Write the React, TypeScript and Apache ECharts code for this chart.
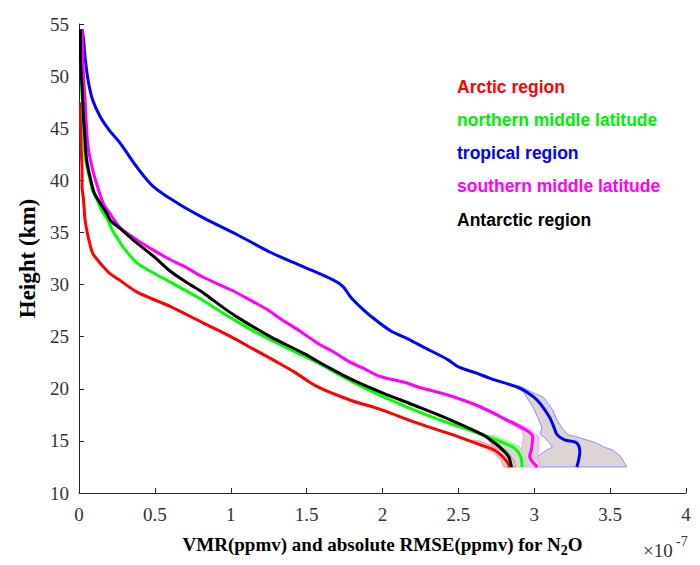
import React, { useEffect, useRef } from "react";
import * as echarts from "echarts";

// Height (km), VMR (x1e-7 ppmv)
const arctic: [number, number][] = [
  [47.5, 0.01], [43.0, 0.015], [41.0, 0.02], [39.4, 0.02], [38.1, 0.03], [36.2, 0.04], [34.6, 0.06],
  [33.0, 0.09], [32.4, 0.12], [31.7, 0.16], [31.1, 0.2], [30.5, 0.26], [29.3, 0.38], [27.9, 0.6],
  [26.3, 0.82], [25.0, 1.0], [23.8, 1.15], [22.6, 1.3], [21.6, 1.42], [20.2, 1.57], [18.9, 1.79],
  [18.0, 1.99], [16.8, 2.21], [15.7, 2.44], [14.6, 2.65], [14.1, 2.74], [13.2, 2.81], [12.5, 2.84],
];
const northernMid: [number, number][] = [
  [52.0, 0.0], [51.9, 0.01], [48.4, 0.02], [44.8, 0.03], [42.3, 0.04], [41.5, 0.05], [40.2, 0.07],
  [39.0, 0.09], [38.1, 0.12], [37.1, 0.15], [36.2, 0.19], [35.2, 0.22], [34.3, 0.26], [33.6, 0.29],
  [32.1, 0.38], [31.2, 0.48], [30.4, 0.58], [28.8, 0.78], [26.9, 0.99], [25.3, 1.18], [23.7, 1.4],
  [22.3, 1.6], [21.0, 1.76], [19.6, 1.95], [18.2, 2.17], [16.9, 2.4], [15.8, 2.62], [14.8, 2.8],
  [14.3, 2.87], [13.5, 2.91], [12.5, 2.92],
];
const tropical: [number, number][] = [
  [54.5, 0.02], [53.5, 0.03], [51.8, 0.04], [49.6, 0.06], [47.7, 0.09], [46.1, 0.14], [44.8, 0.2],
  [43.6, 0.27], [41.3, 0.38], [39.4, 0.49], [37.8, 0.65], [36.4, 0.82], [34.8, 1.04], [33.1, 1.26],
  [31.7, 1.48], [30.4, 1.68], [29.8, 1.74], [28.8, 1.79], [27.9, 1.85], [27.0, 1.92], [25.6, 2.05],
  [24.7, 2.18], [24.0, 2.27], [22.8, 2.43], [22.1, 2.5], [21.5, 2.62], [21.0, 2.71], [20.2, 2.88],
  [19.7, 2.95], [18.9, 3.02], [17.3, 3.1], [16.3, 3.13], [15.6, 3.15], [15.1, 3.2], [14.8, 3.28],
  [13.9, 3.3], [13.0, 3.29], [12.5, 3.28],
];
const southernMid: [number, number][] = [
  [54.5, 0.02], [49.9, 0.03], [47.7, 0.04], [45.0, 0.05], [43.2, 0.06], [41.0, 0.09], [39.5, 0.12],
  [37.8, 0.16], [36.9, 0.2], [35.5, 0.27], [34.3, 0.38], [33.3, 0.49], [32.4, 0.6], [31.7, 0.7],
  [30.7, 0.82], [29.5, 1.0], [28.5, 1.13], [27.6, 1.24], [26.6, 1.34], [25.6, 1.45], [24.4, 1.57],
  [23.6, 1.67], [22.6, 1.78], [22.0, 1.87], [21.2, 1.98], [20.6, 2.15], [20.2, 2.23], [19.4, 2.43],
  [18.3, 2.64], [17.0, 2.82], [16.0, 2.95], [15.4, 2.99], [14.1, 2.98], [13.5, 2.97], [12.5, 3.02],
];
const antarctic: [number, number][] = [
  [54.5, 0.01], [51.5, 0.01], [49.0, 0.02], [46.0, 0.03], [43.9, 0.04], [42.0, 0.05], [40.5, 0.07],
  [38.8, 0.1], [37.8, 0.14], [36.9, 0.18], [36.1, 0.21], [35.4, 0.27], [34.0, 0.38], [32.6, 0.5],
  [31.3, 0.6], [30.2, 0.71], [29.2, 0.82], [28.0, 0.93], [26.9, 1.04], [25.0, 1.26], [23.4, 1.48],
  [22.0, 1.65], [20.8, 1.81], [19.6, 2.0], [18.3, 2.23], [17.0, 2.45], [15.6, 2.66], [14.9, 2.73],
  [14.3, 2.78], [13.5, 2.83], [12.5, 2.85],
];

// RMSE bands: [height, lower, upper]
const tropicalBand: [number, number, number][] = [
  [20.3, 2.86, 2.9], [19.7, 2.93, 2.98], [19.2, 2.95, 3.06], [18.0, 3.0, 3.12], [17.0, 3.03, 3.15],
  [16.3, 3.05, 3.18], [15.6, 3.04, 3.22], [15.3, 3.07, 3.3], [14.8, 3.1, 3.41], [14.4, 3.12, 3.46],
  [14.1, 3.08, 3.52], [13.5, 3.02, 3.57], [12.5, 2.99, 3.61],
];
const southernBand: [number, number, number][] = [
  [17.0, 2.8, 2.85], [16.0, 2.92, 2.98], [15.4, 2.93, 3.03], [14.5, 2.92, 3.03], [13.5, 2.9, 3.02],
  [12.5, 2.93, 3.05],
];
const northernBand: [number, number, number][] = [
  [15.5, 2.68, 2.74], [14.5, 2.8, 2.9], [13.5, 2.85, 2.94], [12.5, 2.86, 2.93],
];
const antarcticBand: [number, number, number][] = [
  [15.0, 2.7, 2.74], [14.0, 2.76, 2.82], [13.0, 2.8, 2.87], [12.5, 2.81, 2.87],
];
const arcticBand: [number, number, number][] = [
  [15.0, 2.58, 2.64], [14.0, 2.72, 2.8], [13.2, 2.78, 2.86], [12.5, 2.8, 2.88],
];

const xTicks = { min: 0, max: 4, interval: 0.5 };
const yTicks = { min: 10, max: 55, interval: 5 };

const legendItems = [
  { name: "Arctic region", color: "#ff0000" },
  { name: "northern middle latitude", color: "#00ee00" },
  { name: "tropical region", color: "#0000ff" },
  { name: "southern middle latitude", color: "#ff00ff" },
  { name: "Antarctic region", color: "#000000" },
];

const serif = '"Liberation Serif", "Times New Roman", serif';
const sans = '"Liberation Sans", Arial, sans-serif';

function bandSeries(band: [number, number, number][], stroke: string) {
  return {
    type: "custom",
    silent: true,
    clip: true,
    z: 1,
    data: [[0, 10]],
    renderItem: (_params: any, api: any) => {
      const pts: number[][] = [];
      band.forEach(([h, , hi]) => pts.push(api.coord([hi, h])));
      for (let i = band.length - 1; i >= 0; i--) pts.push(api.coord([band[i][1], band[i][0]]));
      return {
        type: "polygon",
        shape: { points: pts },
        style: { fill: "#ddd4d4", stroke, lineWidth: 1 },
      };
    },
  };
}

function lineSeries(name: string, data: [number, number][], color: string) {
  return {
    type: "line",
    name,
    z: 3,
    data: data.map(([h, v]) => [v, h]),
    showSymbol: false,
    symbol: "none",
    smooth: 0.3,
    lineStyle: { color, width: 3 },
  };
}

export default function App() {
  const ref = useRef<HTMLDivElement>(null);
  useEffect(() => {
    if (!ref.current) return;
    const chart = echarts.init(ref.current, undefined, { renderer: "svg" });
    const axisColor = "#262626";
    chart.setOption({
      animation: false,
      backgroundColor: "#ffffff",
      grid: { left: 79, right: 14, top: 24, bottom: 72, containLabel: false },
      xAxis: {
        type: "value",
        ...xTicks,
        name: "{b|VMR(ppmv) and absolute RMSE(ppmv) for N}{s|2}{b|O}",
        nameLocation: "middle",
        nameGap: 39,
        nameTextStyle: {
          rich: {
            b: { fontFamily: serif, fontWeight: "bold", fontSize: 19, color: "#000", lineHeight: 24 },
            s: { fontFamily: serif, fontWeight: "bold", fontSize: 14, color: "#000", lineHeight: 14, padding: [12, 0, 0, 0] },
          },
        },
        axisLine: { lineStyle: { color: axisColor, width: 1 } },
        axisTick: { inside: true, length: 5, lineStyle: { color: axisColor } },
        axisLabel: { fontFamily: serif, fontSize: 19, color: "#333", margin: 12 },
        splitLine: { show: false },
      },
      yAxis: {
        type: "value",
        ...yTicks,
        name: "Height (km)",
        nameLocation: "middle",
        nameGap: 30,
        nameTextStyle: { fontFamily: serif, fontWeight: "bold", fontSize: 23, color: "#000" },
        axisLine: { show: true, lineStyle: { color: axisColor, width: 1 } },
        axisTick: { show: true, inside: true, length: 5, lineStyle: { color: axisColor } },
        axisLabel: { fontFamily: serif, fontSize: 19, color: "#333", margin: 10 },
        splitLine: { show: false },
      },
      graphic: [
        ...legendItems.map((it, i) => ({
          type: "text",
          left: 457,
          top: [78, 111, 144, 177, 211][i],
          style: { text: it.name, fill: it.color, font: `bold 17.5px ${sans}` },
        })),
        {
          type: "text",
          left: 643,
          top: 541,
          style: { text: "×10", fill: "#333", font: `19px ${serif}` },
        },
        {
          type: "text",
          left: 676,
          top: 534,
          style: { text: "-7", fill: "#333", font: `14px ${serif}` },
        },
      ],
      series: [
        bandSeries(tropicalBand, "#8c8cff"),
        bandSeries(southernBand, "#ff99ff"),
        bandSeries(northernBand, "#88ff88"),
        bandSeries(antarcticBand, "#888888"),
        bandSeries(arcticBand, "#ff8888"),
        lineSeries("Arctic region", arctic, "#ff0000"),
        lineSeries("northern middle latitude", northernMid, "#00ff00"),
        lineSeries("tropical region", tropical, "#0000ff"),
        lineSeries("southern middle latitude", southernMid, "#ff00ff"),
        lineSeries("Antarctic region", antarctic, "#000000"),
      ],
    });
    return () => chart.dispose();
  }, []);
  return (
    <div
      ref={ref}
      style={{ position: "fixed", left: 0, top: 0, width: 700, height: 565, background: "#fff" }}
    />
  );
}
